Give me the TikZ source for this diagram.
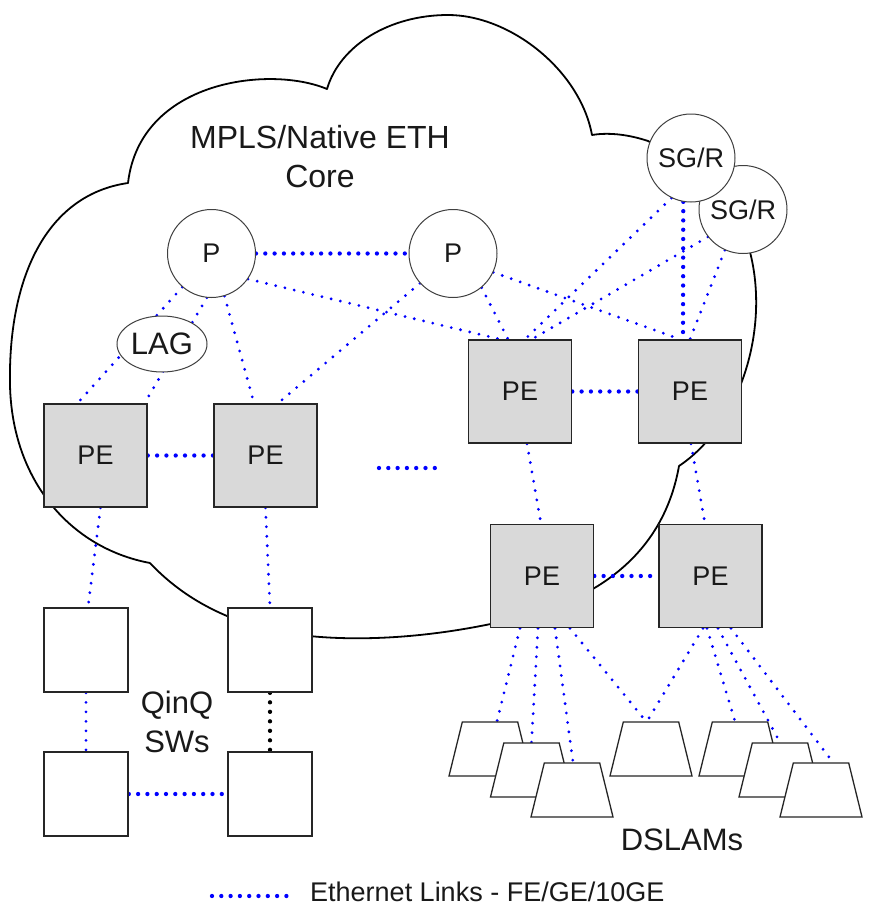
\documentclass[tikz,border=0pt]{standalone}
\usepackage{fontspec}
\setmainfont{Liberation Sans}
\usetikzlibrary{shapes.geometric,backgrounds}
\begin{document}
\begin{tikzpicture}[x=1pt,y=-1pt,
 txt/.style={font=\fontsize{27}{32}\selectfont, text=black!90},
 big/.style={font=\fontsize{31}{39}\selectfont, text=black!90, align=center},
 router/.style={circle, draw=black!75, line width=1pt, fill=white, minimum size=88pt, inner sep=0pt, txt},
 pebox/.style={rectangle, draw=black!85, line width=1.6pt, fill=black!15, minimum size=103pt, inner sep=0pt, txt},
 swbox/.style={rectangle, draw=black!85, line width=1.6pt, fill=white, minimum size=84pt, inner sep=0pt},
 dslam/.style={trapezium, trapezium angle=76.5, draw=black!85, line width=1.3pt, fill=white, minimum width=82pt, minimum height=54pt, inner sep=2pt, trapezium stretches=true},
 eth/.style={draw=blue, line width=3.1pt, line cap=round, dash pattern=on 0pt off 9.5pt},
 eththick/.style={draw=blue, line width=4.3pt, line cap=round, dash pattern=on 0pt off 9.3pt},
 blk/.style={draw=black, line width=4.3pt, line cap=round, dash pattern=on 0pt off 9.5pt},
 cloudline/.style={draw=black, line width=1.8pt, line join=round}
]
\useasboundingbox (0,0) rectangle (889,905);

% nodes
\node[router] (sgr2) at (743,209.5) {SG/R};
\node[router] (sgr1) at (691,158) {SG/R};
\node[router] (p1) at (211.5,253.5) {P};
\node[router] (p2) at (453,253.5) {P};
\node[ellipse, draw=black!75, line width=1pt, fill=white, minimum width=90pt, minimum height=56pt, inner sep=0pt, big] (lag) at (162,344) {LAG};

\node[pebox] (pe1) at (95.5,455.5) {PE};
\node[pebox] (pe2) at (265.5,455.5) {PE};
\node[pebox] (pe3) at (520,391.5) {PE};
\node[pebox] (pe4) at (690,391.5) {PE};
\node[pebox] (pe5) at (542,576) {PE};
\node[pebox] (pe6) at (710.5,576) {PE};

\node[swbox] (q1) at (86,650) {};
\node[swbox] (q2) at (270,650) {};
\node[swbox] (q3) at (86,794) {};
\node[swbox] (q4) at (270,794) {};

\node[dslam] (d1) at (490,749) {};
\node[dslam] (d2) at (531.5,770) {};
\node[dslam] (d3) at (572,790) {};
\node[dslam] (d4) at (651,749) {};
\node[dslam] (d5) at (740,749) {};
\node[dslam] (d6) at (780,770) {};
\node[dslam] (d7) at (821,790) {};

\node[big, font=\fontsize{32}{39}\selectfont] (core) at (320,157) {MPLS/Native ETH\\Core};
\node[big] (qinq) at (177,722) {QinQ\\SWs};
\node[big] (dsl) at (682,840) {DSLAMs};
\node[txt, anchor=base west, inner sep=0pt] (legtxt) at (310,901) {Ethernet Links - FE/GE/10GE};

\coordinate (leg1) at (212,896);
\coordinate (leg2) at (291,896);
\coordinate (el1) at (379,468);
\coordinate (el2) at (441,468);

\begin{pgfonlayer}{background}
\fill[white] (0,0) rectangle (889,905);
% cloud
\draw[cloudline] (150,563) .. controls (180,595) and (220,618) .. (270,630)
 .. controls (340,645) and (440,640) .. (540,612)
 .. controls (610,590) and (665,545) .. (679,466)
 .. controls (740,425) and (770,330) .. (750,252)
 -- (735,205) -- (690,165) -- (648,141)
 .. controls (630,135) and (610,132) .. (592,135)
 .. controls (580,70) and (510,15) .. (448,15)
 .. controls (390,15) and (340,45) .. (327,89)
 .. controls (270,65) and (140,80) .. (128,183)
 .. controls (45,195) and (8,280) .. (10,385)
 .. controls (12,480) and (70,548) .. (150,563);

% core links
\draw[eththick] (p1.east) -- (p2.west);
\draw[eth] (p1.-35) -- ([xshift=-20pt]pe3.north);
\draw[eth] (p1.-73) -- ([xshift=-11.5pt]pe2.north);
\draw[eth] (p1.229) -- ([xshift=-18pt]pe1.north);
\draw[eth] (p1.264) -- ([xshift=49pt]pe1.north);
\draw[eth] (p2.-25) -- ([xshift=-10pt]pe4.north);
\draw[eth] (p2.-50) -- ([xshift=-12pt]pe3.north);
\draw[eth] (p2.222) -- ([xshift=12.5pt]pe2.north);
\draw[eth] (sgr1.244) -- ([xshift=5pt]pe3.north);
\draw[eththick] (sgr1.260) -- ([xshift=-7pt]pe4.north);
\draw[eth] (sgr2.218) -- ([xshift=12pt]pe3.north);
\draw[eth] (sgr2.246) -- (pe4.north);

\draw[eththick] (pe1.east) -- (pe2.west);
\draw[eththick] (pe3.east) -- (pe4.west);
\draw[eththick] (pe5.east) -- (pe6.west);
\draw[eth] ([xshift=7pt]pe3.south) -- ([xshift=-1pt]pe5.north);
\draw[eth] ([xshift=1pt]pe4.south) -- ([xshift=-5.5pt]pe6.north);
\draw[eththick] (el1) -- (el2);

% access
\draw[eth] ([xshift=5pt]pe1.south) -- ([xshift=2pt]q1.north);
\draw[eth] (pe2.south) -- (q2.north);
\draw[eth] (q1.south) -- (q3.north);
\draw[blk] (q2.south) -- (q4.north);
\draw[eththick] (q3.east) -- (q4.west);

% DSLAM links
\draw[eth] ([xshift=-22pt]pe5.south) -- ([xshift=7pt]d1.north);
\draw[eth] ([xshift=-4pt]pe5.south) -- (d2.north);
\draw[eth] ([xshift=13pt]pe5.south) -- ([xshift=1pt]d3.north);
\draw[eth] ([xshift=28pt]pe5.south) -- ([xshift=-5pt]d4.north);
\draw[eth] ([xshift=-7.5pt]pe6.south) -- ([xshift=-4pt]d4.north);
\draw[eth] ([xshift=-3.5pt]pe6.south) -- ([xshift=-5pt]d5.north);
\draw[eth] ([xshift=7.5pt]pe6.south) -- (d6.north);
\draw[eth] ([xshift=20.5pt]pe6.south) -- ([xshift=12pt]d7.north);

% legend
\draw[eththick] (leg1) -- (leg2);
\end{pgfonlayer}
\end{tikzpicture}
\end{document}
